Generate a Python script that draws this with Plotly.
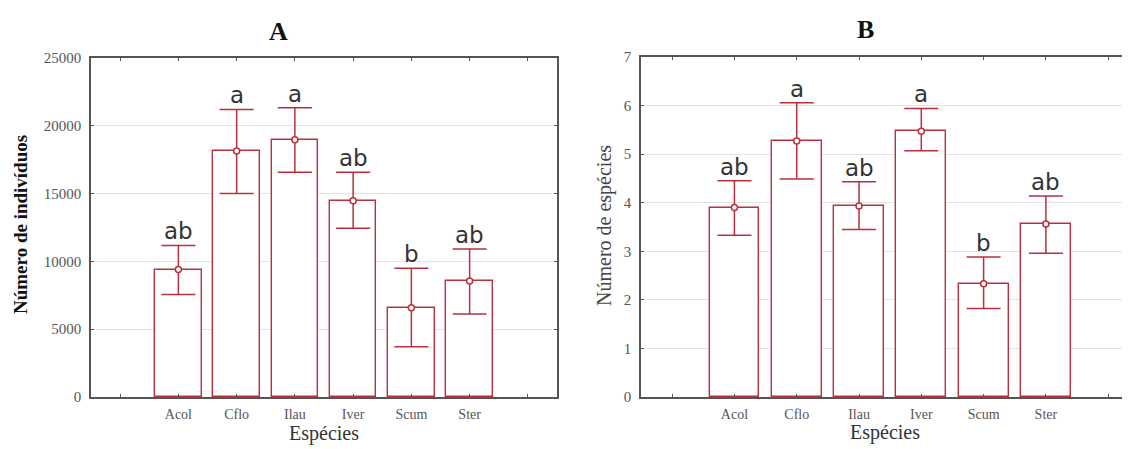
import plotly.graph_objects as go

species = ["Acol", "Cflo", "Ilau", "Iver", "Scum", "Ster"]
positions = [1, 2, 3, 4, 5, 6]

a_mean = [9400, 18150, 18980, 14480, 6590, 8550]
a_upper = [11180, 21210, 21340, 16570, 9490, 10910]
a_lower = [7550, 15000, 16570, 12440, 3710, 6120]
a_letters = ["ab", "a", "a", "ab", "b", "ab"]

b_mean = [3.90, 5.27, 3.93, 5.47, 2.33, 3.56]
b_upper = [4.45, 6.06, 4.43, 5.94, 2.88, 4.14]
b_lower = [3.33, 4.49, 3.45, 5.07, 1.82, 2.96]
b_letters = ["ab", "a", "ab", "a", "b", "ab"]

a_yticks = [0, 5000, 10000, 15000, 20000, 25000]
b_yticks = [0, 1, 2, 3, 4, 5, 6, 7]

RED = "#b8313d"
AXIS = "#555555"
GRID = "#e4e4e4"
SERIF = "Liberation Serif, Times New Roman, serif"
SANS = "DejaVu Sans, Open Sans, sans-serif"

# page has an 8px body margin; figure sized to fit the 1130x449 window
OFF = 8
W, H = 1130 - OFF, 449 - OFF


def px(x):
    return (x - OFF) / W


def py(y):
    return (H - (y - OFF)) / H


fig = go.Figure()


def add_panel(mean, upper, lower, letters, xa, ya):
    fig.add_trace(go.Bar(
        x=positions, y=mean, width=0.8,
        marker=dict(color="white", line=dict(color=RED, width=1.4)),
        xaxis=xa, yaxis=ya, showlegend=False, hoverinfo="skip"))
    fig.add_trace(go.Scatter(
        x=positions, y=mean, mode="markers",
        marker=dict(symbol="circle", size=6, color="white",
                    line=dict(color=RED, width=1.5)),
        error_y=dict(type="data", symmetric=False,
                     array=[u - m for u, m in zip(upper, mean)],
                     arrayminus=[m - l for m, l in zip(mean, lower)],
                     color=RED, thickness=1.5, width=17),
        xaxis=xa, yaxis=ya, showlegend=False))
    for p, u, t in zip(positions, upper, letters):
        fig.add_annotation(x=p, y=u, xref=xa, yref=ya, text=t,
                           showarrow=False, xanchor="center", yanchor="bottom",
                           yshift=-1,
                           font=dict(family=SANS, size=23, color="#333333"))


add_panel(a_mean, a_upper, a_lower, a_letters, "x", "y")
add_panel(b_mean, b_upper, b_lower, b_letters, "x2", "y2")

xa_common = dict(
    tickmode="array", tickvals=[0, 1, 2, 3, 4, 5, 6, 7],
    ticktext=[""] + species + [""],
    ticks="inside", ticklen=3, tickcolor=AXIS,
    showline=True, linecolor=AXIS, linewidth=1.5, mirror="ticks",
    showgrid=False, zeroline=False, automargin=False, ticklabelstandoff=3,
    tickfont=dict(family=SERIF, size=14, color="#555555"),
)
ya_common = dict(
    ticks="inside", ticklen=3, tickcolor=AXIS, tickformat="d",
    showline=True, linecolor=AXIS, linewidth=1.5,
    showgrid=True, gridcolor=GRID, gridwidth=1, zeroline=False,
    automargin=False, ticklabelstandoff=5,
    tickfont=dict(family=SERIF, size=15, color="#555555"),
)

fig.update_layout(
    width=W, height=H,
    margin=dict(l=0, r=0, t=0, b=0),
    paper_bgcolor="white", plot_bgcolor="white",
    bargap=0,
    xaxis=dict(domain=[px(91), px(557)], range=[-0.5, 7.5], **xa_common),
    yaxis=dict(domain=[py(397), py(58)], range=[0, 25000],
               tickvals=a_yticks, mirror="ticks", anchor="x", **ya_common),
    xaxis2=dict(domain=[px(641), 1.0], range=[-0.5, 7.35], anchor="y2",
                **xa_common),
    yaxis2=dict(domain=[py(397), py(57)], range=[0, 7],
                tickvals=b_yticks, mirror=False, anchor="x2", **ya_common),
)


def label(x, y, text, size, color, angle=0):
    fig.add_annotation(x=px(x), y=py(y), xref="paper", yref="paper",
                       text=text, showarrow=False, textangle=angle,
                       xanchor="center", yanchor="middle",
                       font=dict(family=SERIF, size=size, color=color))


label(278, 32, "<b>A</b>", 26, "#111111")
label(865, 30, "<b>B</b>", 26, "#111111")
label(20, 225, "<b>Número de indivíduos</b>", 19, "#111111", -90)
label(605, 226, "Número de espécies", 20, "#444444", -90)
label(324, 433, "Espécies", 20, "#333333")
label(885, 432, "Espécies", 20, "#333333")

fig.write_html("out.html")
